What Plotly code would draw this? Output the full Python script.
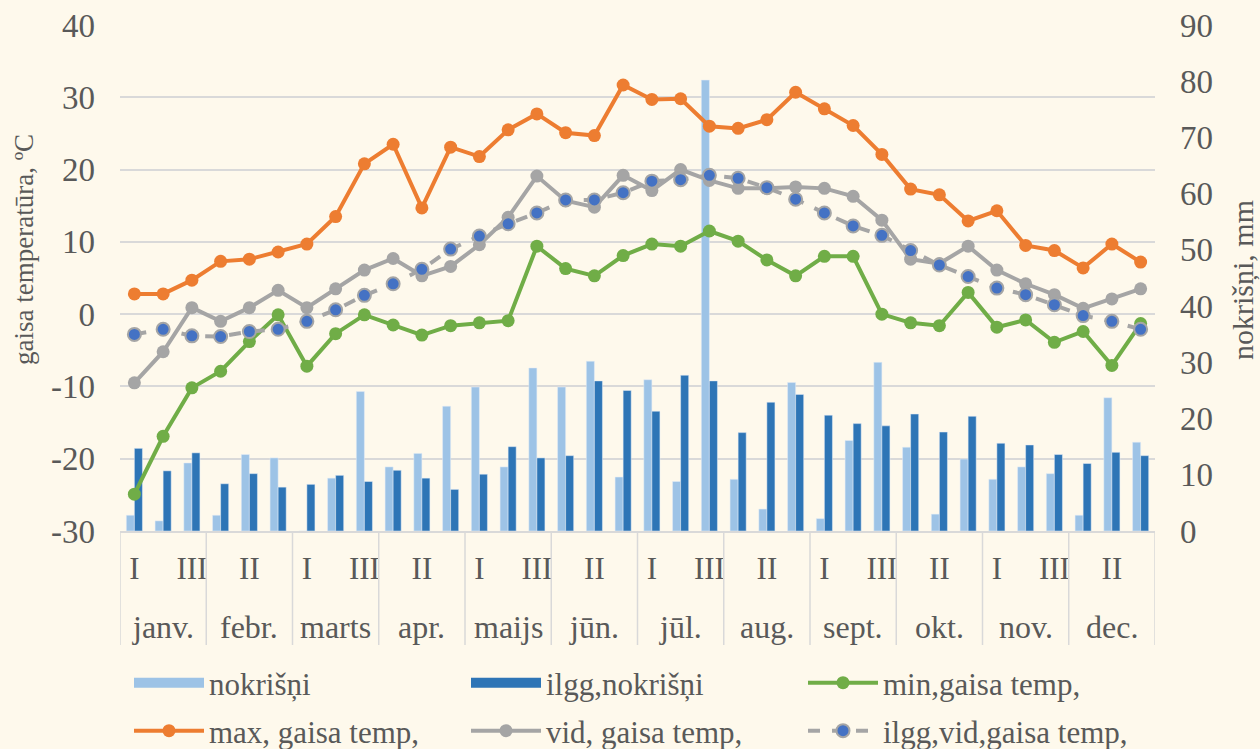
import plotly.graph_objects as go

months = ["janv.", "febr.", "marts", "apr.", "maijs", "jūn.", "jūl.", "aug.", "sept.", "okt.", "nov.", "dec."]
dekads = ["I", "II", "III"]

nokrisni = [2.8, 1.8, 12.1, 2.8, 13.6, 13.0, 0.0, 9.4, 24.8, 11.4, 13.8, 22.2,
            25.6, 11.4, 29.0, 25.6, 30.2, 9.6, 26.9, 8.8, 80.2, 9.2, 3.9, 26.4,
            2.2, 16.1, 30.0, 14.9, 3.0, 12.8, 9.2, 11.4, 10.2, 2.8, 23.7, 15.8]
ilgg_nokrisni = [14.7, 10.7, 13.9, 8.4, 10.2, 7.8, 8.3, 9.9, 8.8, 10.8, 9.4, 7.4,
                 10.1, 15.0, 13.0, 13.4, 26.7, 25.0, 21.3, 27.7, 26.7, 17.5, 22.9, 24.3,
                 20.6, 19.1, 18.7, 20.8, 17.6, 20.4, 15.6, 15.3, 13.6, 12.0, 14.0, 13.4]
t_min = [-24.9, -16.9, -10.2, -7.9, -3.8, -0.1, -7.2, -2.7, -0.1, -1.5, -2.9, -1.6,
         -1.2, -0.9, 9.4, 6.3, 5.3, 8.1, 9.7, 9.4, 11.5, 10.1, 7.5, 5.3,
         8.0, 8.0, 0.0, -1.2, -1.6, 3.0, -1.8, -0.8, -3.9, -2.4, -7.1, -1.3]
t_max = [2.8, 2.8, 4.7, 7.3, 7.6, 8.6, 9.7, 13.5, 20.8, 23.5, 14.7, 23.1,
         21.8, 25.5, 27.7, 25.1, 24.7, 31.7, 29.7, 29.8, 26.0, 25.7, 26.9, 30.7,
         28.4, 26.1, 22.1, 17.3, 16.5, 12.9, 14.3, 9.5, 8.8, 6.4, 9.7, 7.2]
t_vid = [-9.5, -5.2, 0.9, -1.0, 0.9, 3.3, 0.9, 3.5, 6.1, 7.7, 5.3, 6.6,
         9.6, 13.4, 19.1, 15.7, 14.8, 19.2, 17.1, 20.0, 18.5, 17.4, 17.4, 17.6,
         17.4, 16.3, 13.0, 7.6, 7.0, 9.4, 6.1, 4.2, 2.7, 0.8, 2.1, 3.5]
t_ilgg_vid = [-2.8, -2.1, -3.0, -3.1, -2.4, -2.1, -1.0, 0.6, 2.6, 4.2, 6.2, 9.0,
              10.8, 12.5, 14.0, 15.8, 15.8, 16.8, 18.4, 18.6, 19.2, 18.8, 17.5, 15.9,
              14.0, 12.2, 10.9, 8.8, 6.8, 5.2, 3.6, 2.7, 1.3, -0.2, -1.0, -2.1]

temp_ticks = [-30, -20, -10, 0, 10, 20, 30, 40]
mm_ticks = [0, 10, 20, 30, 40, 50, 60, 70, 80, 90]

n = len(months) * len(dekads)
xs = list(range(n))
dek_labels = [dekads[i % 3] for i in xs]

FONT = "Liberation Serif"
TXT = "#595959"
BG = "#FEF9EC"
GRID = "#D9D9D9"
C_NOK = "#9DC3E6"
C_ILGG = "#2E75B6"
LW = 4
MS = 13

fig = go.Figure()
fig.add_trace(go.Bar(x=xs, y=nokrisni, name="nokrišņi", marker_color=C_NOK,
                     yaxis="y", showlegend=False))
fig.add_trace(go.Bar(x=xs, y=ilgg_nokrisni, name="ilgg,nokrišņi", marker_color=C_ILGG,
                     yaxis="y", showlegend=False))
# legend-only swatches for bars (wide rectangles like the original)
fig.add_trace(go.Scatter(x=[None], y=[None], name="nokrišņi", mode="lines",
                         line=dict(color=C_NOK, width=16), yaxis="y", legend="legend"))
fig.add_trace(go.Scatter(x=[None], y=[None], name="ilgg,nokrišņi", mode="lines",
                         line=dict(color=C_ILGG, width=16), yaxis="y", legend="legend"))
fig.add_trace(go.Scatter(x=xs, y=t_min, name="min,gaisa temp,", mode="lines+markers",
                         line=dict(color="#70AD47", width=LW),
                         marker=dict(size=MS, color="#70AD47"), yaxis="y2", legend="legend"))
fig.add_trace(go.Scatter(x=xs, y=t_max, name="max, gaisa temp,", mode="lines+markers",
                         line=dict(color="#ED7D31", width=LW),
                         marker=dict(size=MS, color="#ED7D31"), yaxis="y2", legend="legend2"))
fig.add_trace(go.Scatter(x=xs, y=t_vid, name="vid, gaisa temp,", mode="lines+markers",
                         line=dict(color="#A5A5A5", width=LW),
                         marker=dict(size=MS, color="#A5A5A5"), yaxis="y2", legend="legend2"))
fig.add_trace(go.Scatter(x=xs, y=t_ilgg_vid, name="ilgg,vid,gaisa temp,", mode="lines+markers",
                         line=dict(color="#A5A5A5", width=LW, dash="dash"),
                         marker=dict(size=MS, color="#4472C4", line=dict(color="#A5A5A5", width=2)),
                         yaxis="y2", legend="legend2"))

L, R, T, B = 120, 105, 25, 218
W, H = 1260, 749
ph = H - T - B

def py(pix):
    return (H - B - pix) / ph

def px(pix):
    return (pix - L) / (W - L - R)

shapes = []
for k in range(len(months) + 1):
    shapes.append(dict(type="line", xref="x", yref="paper", x0=3 * k - 0.5, x1=3 * k - 0.5,
                       y0=0, y1=py(645), line=dict(color=GRID, width=1.5)))

annotations = []
for k, m in enumerate(months):
    annotations.append(dict(x=3 * k + 1, y=py(627), xref="x", yref="paper", text=m,
                            showarrow=False, font=dict(family=FONT, size=32, color=TXT),
                            xanchor="center", yanchor="middle"))
annotations.append(dict(x=px(24), y=py(250), xref="paper", yref="paper",
                        xanchor="center", yanchor="middle",
                        text="gaisa temperatūra, ºC", textangle=-90, showarrow=False,
                        font=dict(family=FONT, size=27, color=TXT)))
annotations.append(dict(x=px(1243), y=py(280), xref="paper", yref="paper",
                        xanchor="center", yanchor="middle",
                        text="nokrišņi, mm", textangle=-90, showarrow=False,
                        font=dict(family=FONT, size=30, color=TXT)))

tickvals = list(range(0, n, 2))
leg_common = dict(orientation="h", xanchor="left", yanchor="middle",
                  entrywidth=252, font=dict(family=FONT, size=31, color=TXT),
                  bgcolor="rgba(0,0,0,0)", itemwidth=70, traceorder="normal")
fig.update_layout(
    width=W, height=H,
    margin=dict(l=L, r=R, t=T, b=B, autoexpand=False),
    paper_bgcolor=BG, plot_bgcolor=BG,
    font=dict(family=FONT, color=TXT),
    barmode="group", bargap=0.44, bargroupgap=0,
    xaxis=dict(range=[-0.5, n - 0.5], tickvals=tickvals,
               ticktext=[dek_labels[i] for i in tickvals],
               tickfont=dict(family=FONT, size=31, color=TXT), ticks="", showgrid=False,
               showline=True, linecolor=GRID, linewidth=1.5,
               ticklabelstandoff=9, zeroline=False),
    yaxis=dict(range=[0, 90], tickvals=mm_ticks, ticktext=[str(v) for v in mm_ticks],
               side="right", showgrid=False, zeroline=False,
               tickfont=dict(family=FONT, size=33, color=TXT), ticklabelstandoff=24),
    yaxis2=dict(range=[-30, 40], tickvals=temp_ticks, ticktext=[str(v) for v in temp_ticks],
                side="left", overlaying="y",
                showgrid=True, gridcolor=GRID, gridwidth=1.5, zeroline=False,
                tickfont=dict(family=FONT, size=33, color=TXT), ticklabelstandoff=24),
    shapes=shapes,
    annotations=annotations,
    legend=dict(x=px(129), y=py(683), **leg_common),
    legend2=dict(x=px(129), y=py(731), **leg_common),
    showlegend=True,
)

fig.write_html(
    "out.html",
    config={"displayModeBar": False},
    post_script="document.body.style.margin='0px';document.body.style.overflow='hidden';"
                "document.body.style.background='" + BG + "';",
)
